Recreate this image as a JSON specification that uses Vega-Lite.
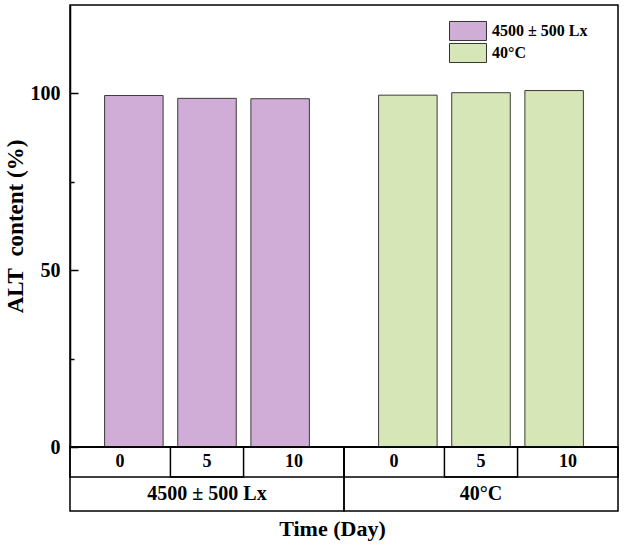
{
  "$schema": "https://vega.github.io/schema/vega-lite/v6.json",
  "autosize": "none",
  "width": 548,
  "height": 442,
  "padding": {"left": 70, "top": 5, "right": 6, "bottom": 103},
  "config": {
    "font": "Liberation Serif",
    "view": {"stroke": "black", "strokeWidth": 1.5},
    "axis": {"labelFontWeight": "bold", "titleFontWeight": "bold", "labelColor": "black", "titleColor": "black"}
  },
  "data": {
    "values": [
      {"condition": "4500 ± 500 Lx", "day": 0, "content": 99.4},
      {"condition": "4500 ± 500 Lx", "day": 5, "content": 98.6},
      {"condition": "4500 ± 500 Lx", "day": 10, "content": 98.5},
      {"condition": "40°C", "day": 0, "content": 99.5},
      {"condition": "40°C", "day": 5, "content": 100.2},
      {"condition": "40°C", "day": 10, "content": 100.8}
    ]
  },
  "encoding": {
    "x": {
      "field": "condition",
      "type": "nominal",
      "sort": ["4500 ± 500 Lx", "40°C"],
      "scale": {"paddingInner": 0, "paddingOuter": 0},
      "axis": {
        "title": "Time (Day)",
        "labels": false,
        "ticks": false,
        "domain": false,
        "titleFontSize": 22,
        "titlePadding": 71,
        "titleX": 262
      }
    }
  },
  "resolve": {"scale": {"xOffset": "independent"}},
  "layer": [
    {
      "mark": {"type": "bar", "stroke": "#3a3a3a", "strokeWidth": 1},
      "encoding": {
        "xOffset": {
          "field": "day",
          "type": "ordinal",
          "scale": {"paddingInner": 0.2, "paddingOuter": 0.473}
        },
        "y": {
          "field": "content",
          "type": "quantitative",
          "scale": {"domain": [0, 125], "nice": false},
          "axis": {
            "title": "ALT\u00a0 content (%)",
            "values": [0, 25, 50, 75, 100],
            "labelExpr": "datum.value % 50 === 0 ? datum.label : ''",
            "tickSize": {"condition": {"test": "datum.value % 50 === 0", "value": -8}, "value": -4},
            "tickColor": "black",
            "tickWidth": 1.5,
            "domainColor": "black",
            "domainWidth": 1.5,
            "grid": false,
            "labelFontSize": 20,
            "labelPadding": 18,
            "titleFontSize": 23,
            "titlePadding": 3
          }
        },
        "color": {
          "field": "condition",
          "type": "nominal",
          "scale": {"domain": ["4500 ± 500 Lx", "40°C"], "range": ["#D0ADD7", "#D7E6B6"]},
          "legend": {
            "title": null,
            "orient": "none",
            "legendX": 388,
            "legendY": 16,
            "padding": 0,
            "symbolType": "M-2,-1.03H2V1.03H-2Z",
            "symbolSize": 342,
            "symbolStrokeColor": "#333333",
            "symbolStrokeWidth": 1,
            "symbolOpacity": 1,
            "labelFont": "Liberation Serif",
            "labelFontSize": 16,
            "labelFontWeight": "bold",
            "labelColor": "black",
            "labelOffset": 14,
            "rowPadding": -2
          }
        }
      }
    },
    {
      "transform": [{"aggregate": [], "groupby": ["condition"]}],
      "mark": {"type": "rect", "fillOpacity": 0, "stroke": "black", "strokeWidth": 1.5},
      "encoding": {
        "y": {"datum": 0},
        "y2": {"datum": -18.1}
      }
    },
    {
      "transform": [{"aggregate": [], "groupby": ["condition"]}],
      "mark": {"type": "rect", "fillOpacity": 0, "stroke": "black", "strokeWidth": 1.5},
      "encoding": {
        "y": {"datum": 0},
        "y2": {"datum": -8.48}
      }
    },
    {
      "transform": [{"filter": "datum.day === 5"}],
      "mark": {"type": "rect", "fillOpacity": 0, "stroke": "black", "strokeWidth": 1.5},
      "encoding": {
        "xOffset": {
          "field": "day",
          "type": "ordinal",
          "scale": {"domain": [0, 5, 10], "paddingInner": 0, "paddingOuter": 0.373}
        },
        "y": {"datum": 0},
        "y2": {"datum": -8.48}
      }
    },
    {
      "mark": {"type": "text", "baseline": "middle", "fontSize": 18, "fontWeight": "bold", "color": "black"},
      "encoding": {
        "xOffset": {
          "field": "day",
          "type": "ordinal",
          "scale": {"type": "point", "padding": 0.573}
        },
        "y": {"datum": -4.24},
        "text": {"field": "day", "type": "ordinal"}
      }
    },
    {
      "transform": [{"aggregate": [], "groupby": ["condition"]}],
      "mark": {"type": "text", "baseline": "middle", "fontSize": 20, "fontWeight": "bold", "color": "black"},
      "encoding": {
        "y": {"datum": -13.3},
        "text": {"field": "condition", "type": "nominal"}
      }
    }
  ]
}
